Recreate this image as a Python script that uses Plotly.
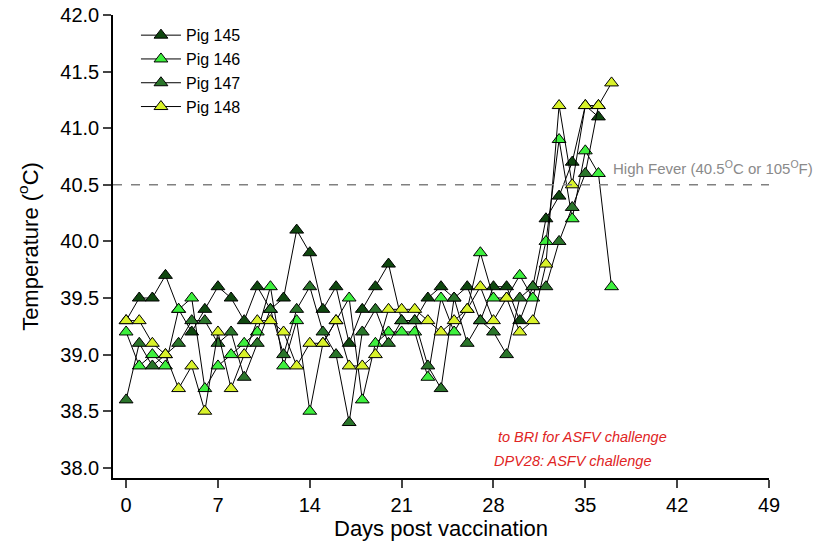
import plotly.graph_objects as go

days_a = list(range(0, 37))   # 0..36
days_b = list(range(0, 38))   # 0..37

pig145 = [39.3, 39.5, 39.5, 39.7, 39.4, 39.2, 39.4, 39.6, 39.5, 39.3,
          39.6, 39.4, 39.5, 40.1, 39.9, 39.4, 39.6, 39.1, 39.4, 39.6,
          39.8, 39.3, 39.3, 39.5, 39.6, 39.5, 39.6, 39.3, 39.6, 39.6,
          39.3, 39.6, 40.2, 40.4, 40.7, 41.2, 41.1]
pig146 = [39.2, 38.9, 39.0, 38.9, 39.4, 39.5, 38.7, 38.9, 39.0, 39.1,
          39.2, 39.6, 38.9, 39.3, 38.5, 39.1, 39.3, 39.5, 38.6, 39.1,
          39.2, 39.2, 39.2, 38.8, 39.5, 39.2, 39.4, 39.9, 39.5, 39.5,
          39.7, 39.5, 40.0, 40.9, 40.2, 40.8, 40.6, 39.6]
pig147 = [38.6, 39.1, 38.9, 39.0, 39.1, 39.3, 39.3, 39.1, 39.2, 38.8,
          39.1, 39.4, 39.0, 39.4, 39.6, 39.2, 39.0, 38.4, 39.2, 39.4,
          39.1, 39.3, 39.3, 38.9, 38.7, 39.5, 39.1, 39.3, 39.2, 39.0,
          39.5, 39.6, 39.6, 40.0, 40.3, 40.6, 41.2]
pig148 = [39.3, 39.3, 39.1, 39.0, 38.7, 38.9, 38.5, 39.2, 38.7, 39.0,
          39.3, 39.3, 39.2, 38.9, 39.1, 39.1, 39.3, 38.9, 38.9, 39.0,
          39.4, 39.4, 39.4, 39.3, 39.2, 39.3, 39.4, 39.6, 39.3, 39.5,
          39.2, 39.3, 39.8, 41.2, 40.5, 41.2, 41.2, 41.4]

x_ticks = [0, 7, 14, 21, 28, 35, 42, 49]
y_ticks = [38.0, 38.5, 39.0, 39.5, 40.0, 40.5, 41.0, 41.5, 42.0]
fever_level = 40.5

series = [
    ("Pig 145", days_a, pig145, "#0f470f"),
    ("Pig 146", days_b, pig146, "#3df03d"),
    ("Pig 147", days_a, pig147, "#2a752a"),
    ("Pig 148", days_b, pig148, "#d9f22a"),
]

fig = go.Figure()
for name, xs, ys, col in series:
    fig.add_trace(go.Scatter(
        x=xs, y=ys, name=name, mode="lines+markers",
        line=dict(color="black", width=1),
        marker=dict(symbol="triangle-up", size=12, color=col,
                    line=dict(color="black", width=1)),
    ))

fig.add_shape(type="line", xref="x", yref="y", x0=-1, x1=49,
              y0=fever_level, y1=fever_level,
              line=dict(color="#808080", width=1.5, dash="dash"))

fig.add_annotation(x=1.07, xref="paper", y=40.65, yref="y",
                   text="High Fever (40.5<sup>O</sup>C or 105<sup>O</sup>F)",
                   showarrow=False, xanchor="right", yanchor="middle",
                   font=dict(family="Arial", size=15, color="#8a8a8a"))
fig.add_annotation(x=(496 - 113) / 656, xref="paper", y=38.27, yref="y",
                   text="<i>to BRI for ASFV challenge</i>", showarrow=False,
                   xanchor="left", yanchor="middle",
                   font=dict(family="Arial", size=14.5, color="#e02424"))
fig.add_annotation(x=(492 - 113) / 656, xref="paper", y=38.06, yref="y",
                   text="<i>DPV28: ASFV challenge</i>", showarrow=False,
                   xanchor="left", yanchor="middle",
                   font=dict(family="Arial", size=14.5, color="#e02424"))

fig.update_layout(
    width=840, height=550,
    margin=dict(l=113, r=71, t=15, b=72, autoexpand=False),
    paper_bgcolor="white", plot_bgcolor="white",
    font=dict(family="Arial", size=20, color="black"),
    showlegend=True,
    legend=dict(x=0.035, y=0.993, xanchor="left", yanchor="top",
                bgcolor="rgba(0,0,0,0)", font=dict(size=16),
                tracegroupgap=0, itemwidth=40),
    xaxis=dict(range=[-1, 49], tickvals=x_ticks, ticks="outside",
               ticklen=8, tickwidth=1.5, showline=True, linecolor="black",
               linewidth=1.5, showgrid=False, zeroline=False,
               automargin=False,
               title=dict(text="Days post vaccination", font=dict(size=22),
                          standoff=6),
               tickfont=dict(size=20)),
    yaxis=dict(range=[37.91, 42.0], tickvals=y_ticks, tickformat=".1f",
               ticks="outside", ticklen=8, tickwidth=1.5, showline=True,
               linecolor="black", linewidth=1.5, showgrid=False,
               zeroline=False, automargin=False,
               title=dict(text="Temperature (<sup>o</sup>C)",
                          font=dict(size=22), standoff=16),
               tickfont=dict(size=20)),
)

fig.write_html("out.html")
